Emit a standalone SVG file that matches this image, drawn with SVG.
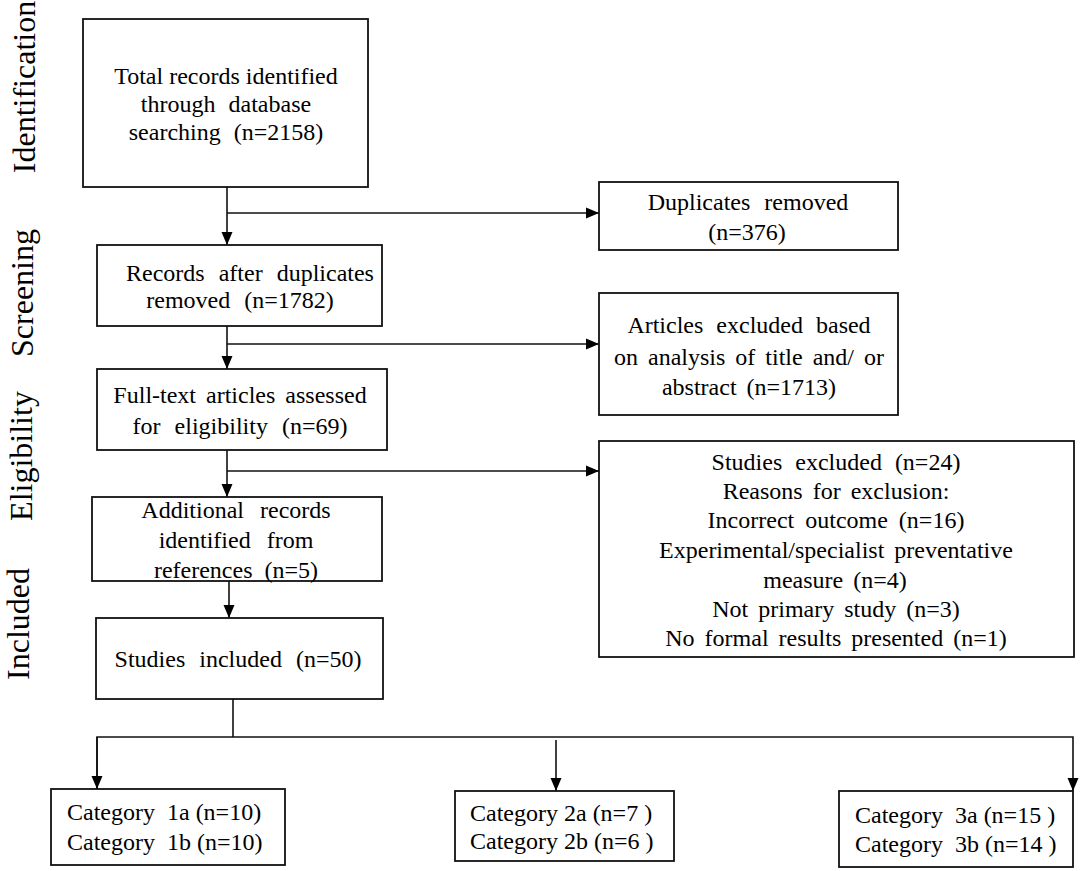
<svg xmlns="http://www.w3.org/2000/svg" width="1084" height="871" viewBox="0 0 1084 871">
<style>
.box{fill:#fff;stroke:#111;stroke-width:1.8}
.t{font-family:"Liberation Serif","Times New Roman",serif;font-size:24px;fill:#000;text-anchor:middle;word-spacing:4px}
.c{font-family:"Liberation Serif","Times New Roman",serif;font-size:24px;fill:#000}
.side{font-family:"Liberation Serif","Times New Roman",serif;font-size:32px;fill:#000;text-anchor:middle}
.ln{fill:none;stroke:#111;stroke-width:1.6}
</style>
<defs>
<marker id="ah" markerUnits="userSpaceOnUse" markerWidth="14" markerHeight="12" refX="13" refY="6" orient="auto">
<path d="M0,0.5 L13,6 L0,11.5 z" fill="#000"/>
</marker>
</defs>
<rect width="1084" height="871" fill="#fff"/>

<g id="labels">
<text class="side" transform="translate(35,87) rotate(-90)">Identification</text>
<text class="side" transform="translate(33,293) rotate(-90)">Screening</text>
<text class="side" transform="translate(32,456) rotate(-90)">Eligibility</text>
<text class="side" transform="translate(29,624) rotate(-90)">Included</text>
</g>

<g id="connectors">
<path class="ln" d="M227,187 V245" marker-end="url(#ah)"/>
<path class="ln" d="M227,213 H599" marker-end="url(#ah)"/>
<path class="ln" d="M227,326 V369" marker-end="url(#ah)"/>
<path class="ln" d="M227,344 H599" marker-end="url(#ah)"/>
<path class="ln" d="M227,450 V497" marker-end="url(#ah)"/>
<path class="ln" d="M227,471 H599" marker-end="url(#ah)"/>
<path class="ln" d="M229,581 V618" marker-end="url(#ah)"/>
<path class="ln" d="M233,699 V737"/>
<path class="ln" d="M97,789 V737 H1073 V791" marker-end="url(#ah)"/>
<path class="ln" d="M97,737 V789" marker-end="url(#ah)"/>
<path class="ln" d="M556,740 V791" marker-end="url(#ah)"/>
</g>

<g id="n1">
<rect class="box" x="83" y="19" width="285" height="168"/>
<text class="t" x="226" y="84" style="word-spacing:0px">Total records identified</text>
<text class="t" x="226" y="112" style="word-spacing:7px">through database</text>
<text class="t" x="226" y="140" style="word-spacing:7px">searching (n=2158)</text>
</g>

<g id="n2">
<rect class="box" x="97" y="245" width="285" height="81"/>
<text class="t" x="250" y="281" style="word-spacing:8px">Records after duplicates</text>
<text class="t" x="240" y="308" style="word-spacing:8px">removed (n=1782)</text>
</g>

<g id="n3">
<rect class="box" x="97" y="369" width="290" height="81"/>
<text class="t" x="240" y="403">Full-text articles assessed</text>
<text class="t" x="240" y="434" style="word-spacing:8px">for eligibility (n=69)</text>
</g>

<g id="n4">
<rect class="box" x="92" y="497" width="290" height="84"/>
<text class="t" x="236" y="518" style="word-spacing:10px">Additional records</text>
<text class="t" x="236" y="548" style="word-spacing:10px">identified from</text>
<text class="t" x="236" y="578" style="word-spacing:6px">references (n=5)</text>
</g>

<g id="n5">
<rect class="box" x="96" y="618" width="287" height="81"/>
<text class="t" x="238" y="667" style="word-spacing:8px">Studies included (n=50)</text>
</g>

<g id="n6">
<rect class="box" x="599" y="182" width="299" height="68"/>
<text class="t" x="748" y="210" style="word-spacing:8px">Duplicates removed</text>
<text class="t" x="747" y="240">(n=376)</text>
</g>

<g id="n7">
<rect class="box" x="599" y="293" width="299" height="122"/>
<text class="t" x="749" y="333" style="word-spacing:7px">Articles excluded based</text>
<text class="t" x="749" y="365">on analysis of title and/ or</text>
<text class="t" x="749" y="395">abstract (n=1713)</text>
</g>

<g id="n8">
<rect class="box" x="599" y="441" width="475" height="216"/>
<text class="t" x="836" y="470" style="word-spacing:7px">Studies excluded (n=24)</text>
<text class="t" x="836" y="499">Reasons for exclusion:</text>
<text class="t" x="836" y="528" style="word-spacing:5px">Incorrect outcome (n=16)</text>
<text class="t" x="836" y="558">Experimental/specialist preventative</text>
<text class="t" x="835" y="588">measure (n=4)</text>
<text class="t" x="836" y="617">Not primary study (n=3)</text>
<text class="t" x="836" y="646">No formal results presented (n=1)</text>
</g>

<g id="n9">
<rect class="box" x="51" y="789" width="234" height="76"/>
<text class="c" x="67" y="820">Category&#160; 1a (n=10)</text>
<text class="c" x="67" y="850">Category&#160; 1b (n=10)</text>
</g>

<g id="n10">
<rect class="box" x="455" y="791" width="219" height="70"/>
<text class="c" x="470" y="821">Category 2a (n=7 )</text>
<text class="c" x="470" y="849">Category 2b (n=6 )</text>
</g>

<g id="n11">
<rect class="box" x="839" y="791" width="234" height="76"/>
<text class="c" x="855" y="823">Category&#160; 3a (n=15 )</text>
<text class="c" x="855" y="852">Category&#160; 3b (n=14 )</text>
</g>
</svg>
